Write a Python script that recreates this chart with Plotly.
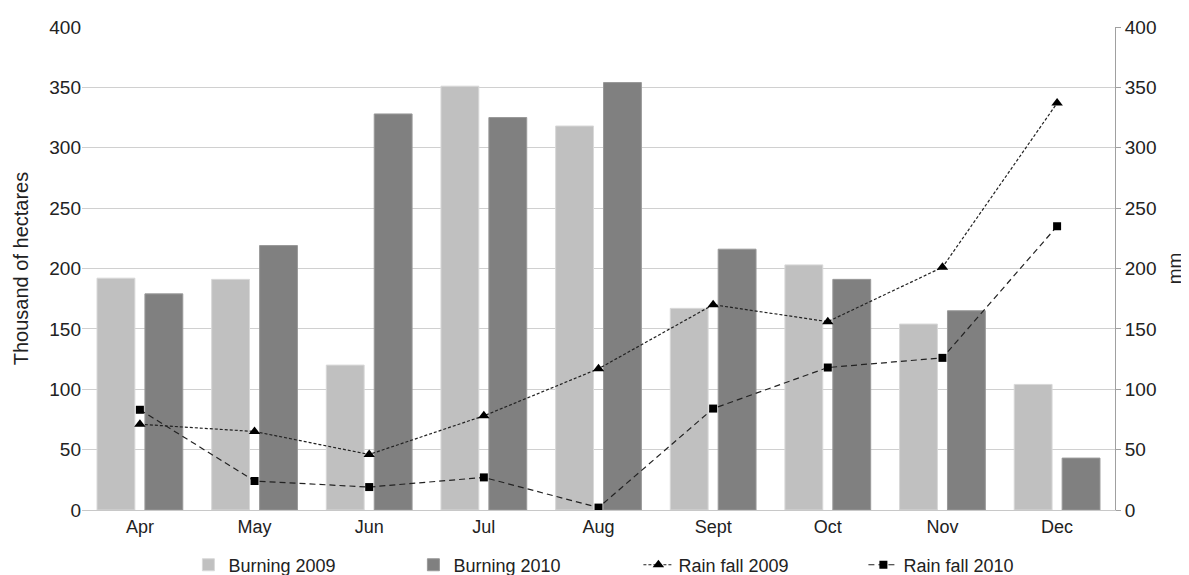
import plotly.graph_objects as go

months = ["Apr", "May", "Jun", "Jul", "Aug", "Sept", "Oct", "Nov", "Dec"]
burning_2009 = [192, 191, 120, 351, 318, 167, 203, 154, 104]
burning_2010 = [179, 219, 328, 325, 354, 216, 191, 165, 43]
rain_2009 = [71, 65, 46, 78, 117, 170, 156, 201, 337]
rain_2010 = [83, 24, 19, 27, 2, 84, 118, 126, 235]

font_family = "Liberation Sans, Arial, sans-serif"

fig = go.Figure()
fig.add_trace(go.Bar(x=months, y=burning_2009, name="Burning 2009",
                     marker=dict(color="#c0c0c0", line=dict(color="#d8d8d8", width=1))))
fig.add_trace(go.Bar(x=months, y=burning_2010, name="Burning 2010",
                     marker=dict(color="#808080", line=dict(color="#999999", width=1))))
fig.add_trace(go.Scatter(x=months, y=rain_2009, name="Rain fall 2009", yaxis="y2",
                         mode="lines+markers",
                         line=dict(color="#222222", width=1.2, dash="3px,2px"),
                         marker=dict(symbol="triangle-up", size=10, color="black")))
fig.add_trace(go.Scatter(x=months, y=rain_2010, name="Rain fall 2010", yaxis="y2",
                         mode="lines+markers",
                         line=dict(color="#222222", width=1.2, dash="6px,4px"),
                         marker=dict(symbol="square", size=8, color="black")))

fig.update_layout(
    width=1181, height=567,
    margin=dict(l=74, r=74, t=19, b=65, autoexpand=False),
    paper_bgcolor="white", plot_bgcolor="white",
    font=dict(family=font_family, size=18, color="#222222"),
    barmode="group", bargap=0.164, bargroupgap=0.21,
    showlegend=True,
    legend=dict(orientation="h", x=0.103, xanchor="left", y=-0.114, yanchor="middle",
                font=dict(size=18), entrywidth=180, entrywidthmode="pixels",
                traceorder="normal", bgcolor="rgba(0,0,0,0)"),
    xaxis=dict(showgrid=False, showline=True, linecolor="#c8c8c8", linewidth=1,
               ticks="", tickfont=dict(size=18), automargin=False),
    yaxis=dict(range=[0, 400], dtick=50, showgrid=True, gridcolor="#d0d0d0", gridwidth=1,
               zeroline=False, showline=False, ticks="", tickfont=dict(size=19),
               automargin=False,
               title=dict(text="Thousand of hectares", font=dict(size=20), standoff=15)),
    yaxis2=dict(range=[0, 400], dtick=50, overlaying="y", side="right", showgrid=False,
                zeroline=False, showline=True, linecolor="#a0a0a0", linewidth=1,
                ticks="outside", ticklen=5, tickcolor="#a0a0a0", tickfont=dict(size=19),
                automargin=False,
                title=dict(text="mm", font=dict(size=19), standoff=12)),
)

fig.write_html("out.html")
